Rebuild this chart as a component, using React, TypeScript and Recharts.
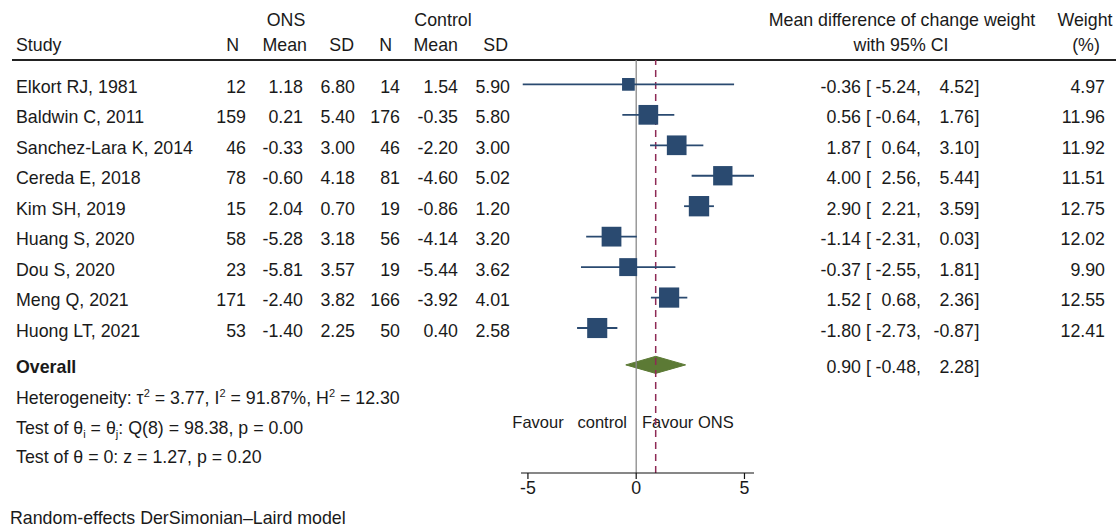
import React from 'react';
import {
  ComposedChart,
  Scatter,
  ErrorBar,
  Area,
  XAxis,
  YAxis,
  ReferenceLine,
  Customized,
} from 'recharts';

// study table
const studies = [
  'Elkort RJ, 1981',
  'Baldwin C, 2011',
  'Sanchez-Lara K, 2014',
  'Cereda E, 2018',
  'Kim SH, 2019',
  'Huang S, 2020',
  'Dou S, 2020',
  'Meng Q, 2021',
  'Huong LT, 2021',
];
const onsN = [12, 159, 46, 78, 15, 58, 23, 171, 53];
const onsMean = [1.18, 0.21, -0.33, -0.6, 2.04, -5.28, -5.81, -2.4, -1.4];
const onsSD = [6.8, 5.4, 3.0, 4.18, 0.7, 3.18, 3.57, 3.82, 2.25];
const ctlN = [14, 176, 46, 81, 19, 56, 19, 166, 50];
const ctlMean = [1.54, -0.35, -2.2, -4.6, -0.86, -4.14, -5.44, -3.92, 0.4];
const ctlSD = [5.9, 5.8, 3.0, 5.02, 1.2, 3.2, 3.62, 4.01, 2.58];
const meanDiff = [-0.36, 0.56, 1.87, 4.0, 2.9, -1.14, -0.37, 1.52, -1.8];
const ciLow = [-5.24, -0.64, 0.64, 2.56, 2.21, -2.31, -2.55, 0.68, -2.73];
const ciHigh = [4.52, 1.76, 3.1, 5.44, 3.59, 0.03, 1.81, 2.36, -0.87];
const weights = [4.97, 11.96, 11.92, 11.51, 12.75, 12.02, 9.9, 12.55, 12.41];

const overallMd = 0.9;
const overallLow = -0.48;
const overallHigh = 2.28;

const xTicks = [-5, 0, 5];

// layout (row units on the y axis)
const OVERALL_ROW = 9.21;
const statRows = [10.2, 11.21, 12.16];
const DIAMOND_H = 0.28;

const FONT = '"Liberation Sans", Arial, sans-serif';
const TXT = '#1a1a1a';
const BLUE = '#2a4a70';
const GREEN = '#5c7a35';
const RED = '#8e2a55';
const FS = 17.8;

const points = studies.map((s, i) => ({
  x: meanDiff[i],
  y: i,
  err: [meanDiff[i] - ciLow[i], ciHigh[i] - meanDiff[i]],
  w: weights[i],
}));

const diamond = [
  { x: overallLow, band: [OVERALL_ROW, OVERALL_ROW] },
  { x: overallMd, band: [OVERALL_ROW - DIAMOND_H, OVERALL_ROW + DIAMOND_H] },
  { x: overallHigh, band: [OVERALL_ROW, OVERALL_ROW] },
];

const rowTicks = [...studies.map((s, i) => i), OVERALL_ROW, ...statRows];

const f2 = (v: number) => v.toFixed(2);

function CiText({ y, md, lo, hi }: any) {
  return (
    <g fontSize={FS} fill={TXT} fontFamily={FONT}>
      <text x={861} y={y} textAnchor="end">{f2(md)}</text>
      <text x={866} y={y}>[</text>
      <text x={921} y={y} textAnchor="end">{f2(lo) + ','}</text>
      <text x={974} y={y} textAnchor="end">{f2(hi)}</text>
      <text x={974.5} y={y}>]</text>
    </g>
  );
}

function RowTick(props: any) {
  const { y, payload } = props;
  const v = payload.value;
  const ty = y + 8.5;
  const i = studies.findIndex((s, k) => k === v);
  if (i >= 0) {
    const cols = [
      [246, String(onsN[i])],
      [303, f2(onsMean[i])],
      [355, f2(onsSD[i])],
      [400, String(ctlN[i])],
      [458, f2(ctlMean[i])],
      [510, f2(ctlSD[i])],
    ];
    return (
      <g fontFamily={FONT} fontSize={FS} fill={TXT}>
        <text x={16} y={ty}>{studies[i]}</text>
        {cols.map(([cx, t]: any, k) => (
          <text key={k} x={cx} y={ty} textAnchor="end">{t}</text>
        ))}
        <CiText y={ty} md={meanDiff[i]} lo={ciLow[i]} hi={ciHigh[i]} />
        <text x={1105} y={ty} textAnchor="end">{f2(weights[i])}</text>
      </g>
    );
  }
  if (v === OVERALL_ROW) {
    return (
      <g fontFamily={FONT} fontSize={FS} fill={TXT}>
        <text x={16} y={ty} fontWeight="bold">Overall</text>
        <CiText y={ty} md={overallMd} lo={overallLow} hi={overallHigh} />
      </g>
    );
  }
  const s = statRows.indexOf(v);
  const sm = 11;
  if (s === 0) {
    return (
      <text x={16} y={ty} fontFamily={FONT} fontSize={FS} fill={TXT}>
        Heterogeneity: τ<tspan dy={-7} fontSize={sm}>2</tspan>
        <tspan dy={7}> = 3.77, I</tspan><tspan dy={-7} fontSize={sm}>2</tspan>
        <tspan dy={7}> = 91.87%, H</tspan><tspan dy={-7} fontSize={sm}>2</tspan>
        <tspan dy={7}> = 12.30</tspan>
      </text>
    );
  }
  if (s === 1) {
    return (
      <text x={16} y={ty} fontFamily={FONT} fontSize={FS} fill={TXT}>
        Test of θ<tspan dy={4} fontSize={sm}>i</tspan>
        <tspan dy={-4}> = θ</tspan><tspan dy={4} fontSize={sm}>j</tspan>
        <tspan dy={-4}>: Q(8) = 98.38, p = 0.00</tspan>
      </text>
    );
  }
  if (s === 2) {
    return (
      <text x={16} y={ty} fontFamily={FONT} fontSize={FS} fill={TXT}>
        Test of θ = 0: z = 1.27, p = 0.20
      </text>
    );
  }
  return null;
}

function StudySquare(props: any) {
  const { cx, cy, payload } = props;
  const side = 5.7 * Math.sqrt(payload.w);
  return <rect x={cx - side / 2} y={cy - side / 2} width={side} height={side} fill={BLUE} />;
}

function Headers() {
  return (
    <g fontFamily={FONT} fontSize={FS} fill={TXT}>
      <text x={286} y={26} textAnchor="middle">ONS</text>
      <text x={443} y={26} textAnchor="middle">Control</text>
      <text x={16} y={51}>Study</text>
      <text x={239} y={51} textAnchor="end">N</text>
      <text x={307} y={51} textAnchor="end">Mean</text>
      <text x={354} y={51} textAnchor="end">SD</text>
      <text x={392} y={51} textAnchor="end">N</text>
      <text x={458} y={51} textAnchor="end">Mean</text>
      <text x={508} y={51} textAnchor="end">SD</text>
      <text x={902} y={26} textAnchor="middle">Mean difference of change weight</text>
      <text x={901} y={51} textAnchor="middle">with 95% CI</text>
      <text x={1085} y={26} textAnchor="middle">Weight</text>
      <text x={1086} y={51} textAnchor="middle">(%)</text>
      <line x1={12} x2={1116} y1={60} y2={60} stroke="#222" strokeWidth={2} />
      <text x={627} y={428} textAnchor="end" fontSize={16.5} style={{ whiteSpace: 'pre' }}>
        {'Favour   control'}
      </text>
      <text x={642} y={428} fontSize={16.5}>Favour ONS</text>
      <text x={10} y={524}>Random-effects DerSimonian–Laird model</text>
    </g>
  );
}

export default function App() {
  return (
    <div style={{ position: 'absolute', left: 0, top: 0, background: '#fff' }}>
      <ComposedChart
        width={1120}
        height={529}
        margin={{ top: 60, right: 366, bottom: 26, left: 520 }}
      >
        <XAxis
          dataKey="x"
          type="number"
          domain={[-5.32, 5.44]}
          ticks={xTicks}
          allowDataOverflow
          height={30}
          tickSize={6}
          axisLine={{ stroke: '#111', strokeWidth: 1.2 }}
          tickLine={{ stroke: '#111', strokeWidth: 1.2 }}
          tick={{ fill: TXT, fontSize: FS, fontFamily: FONT }}
        />
        <YAxis
          dataKey="y"
          type="number"
          domain={[-0.8, 12.76]}
          reversed
          allowDataOverflow
          width={1}
          ticks={rowTicks}
          interval={0}
          axisLine={false}
          tickLine={false}
          tick={<RowTick />}
        />
        <ReferenceLine x={0} stroke="#8a8a8a" strokeWidth={1.3} />
        <ReferenceLine x={overallMd} stroke={RED} strokeWidth={1.5} strokeDasharray="7 5" />
        <Area
          data={diamond}
          dataKey="band"
          type="linear"
          stroke={GREEN}
          fill={GREEN}
          fillOpacity={1}
          dot={false}
          activeDot={false}
          isAnimationActive={false}
        />
        <Scatter data={points} shape={<StudySquare />} isAnimationActive={false}>
          <ErrorBar dataKey="err" direction="x" width={0} stroke={BLUE} strokeWidth={1.8} />
        </Scatter>
        <Customized component={<Headers />} />
      </ComposedChart>
    </div>
  );
}
